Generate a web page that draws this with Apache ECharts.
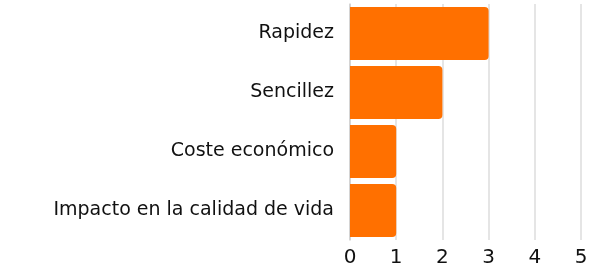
<!DOCTYPE html>
<html>
<head>
<meta charset="utf-8">
<script src="https://cdn.jsdelivr.net/npm/echarts@6/dist/echarts.min.js"></script>
<style>
  html, body { margin: 0; padding: 0; background: #fff; }
  #chart { width: 594px; height: 269px; }
</style>
</head>
<body>
<div id="chart"></div>
<script>
const categories = ['Rapidez', 'Sencillez', 'Coste económico', 'Impacto en la calidad de vida'];
const values = [3, 2, 1, 1];
const xTicks = [0, 1, 2, 3, 4, 5];

const chart = echarts.init(document.querySelector('#chart'));

chart.setOption({
    animation: false,
    grid: {
        left: 350,
        right: 13,
        top: 4,
        bottom: 29,
        containLabel: false
    },
    xAxis: {
        type: 'value',
        min: xTicks[0],
        max: xTicks[xTicks.length - 1],
        interval: 1,
        axisLine: { show: false },
        axisTick: { show: false },
        axisLabel: {
            color: '#111',
            fontSize: 20,
            fontFamily: 'DejaVu Sans',
            margin: 8
        },
        splitLine: {
            lineStyle: { color: '#dcdcdc', width: 1.5 }
        }
    },
    yAxis: {
        type: 'category',
        inverse: true,
        data: categories,
        axisLine: { show: true, lineStyle: { color: '#cfcfcf', width: 1.5 } },
        axisTick: { show: false },
        axisLabel: {
            color: '#111',
            fontSize: 19,
            fontFamily: 'DejaVu Sans',
            margin: 16
        }
    },
    series: [
        {
            type: 'bar',
            data: values,
            barCategoryGap: '10%',
            itemStyle: {
                color: '#ff7000',
                borderRadius: [0, 4, 4, 0]
            }
        }
    ]
});
</script>
</body>
</html>
